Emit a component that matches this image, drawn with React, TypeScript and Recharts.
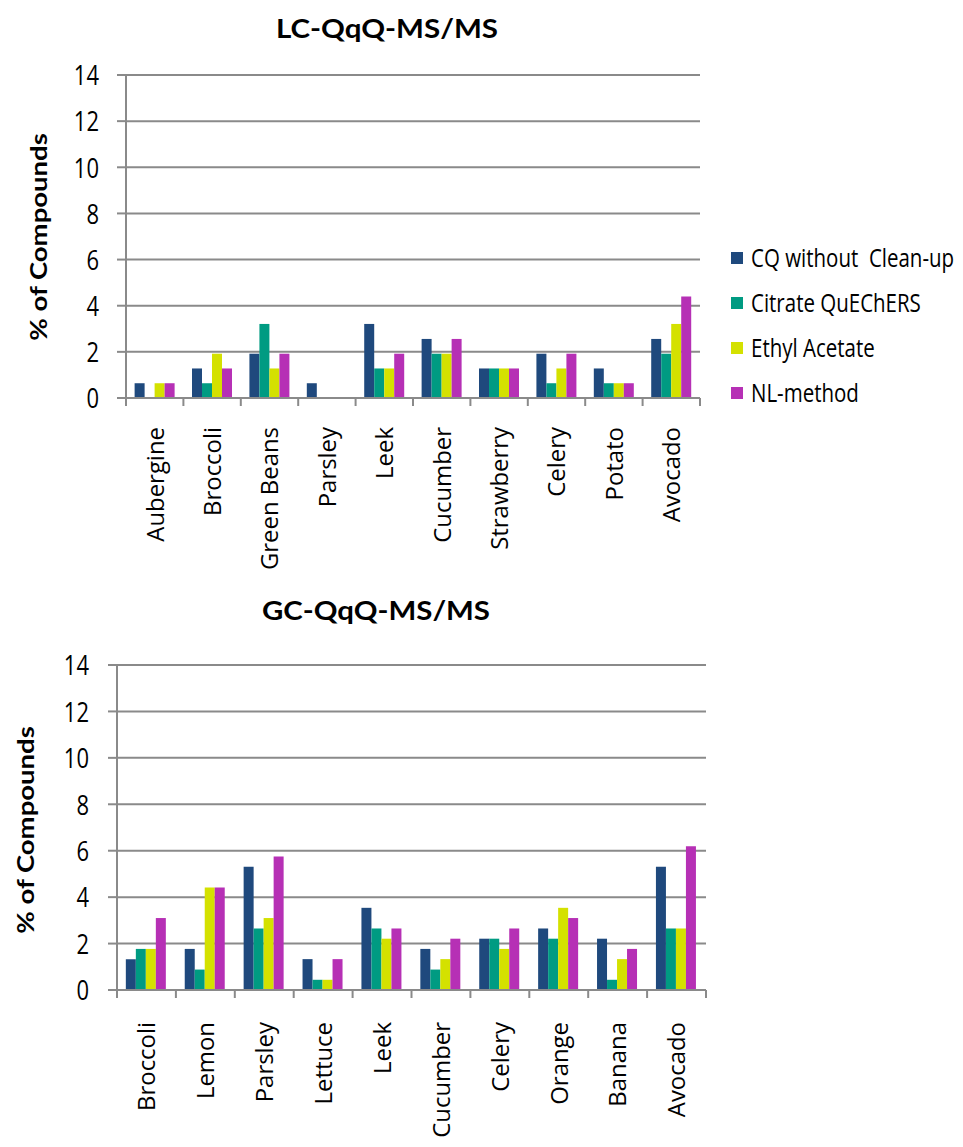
import React from 'react'
import { BarChart, Bar, XAxis, YAxis, CartesianGrid } from 'recharts'

const methods = ['CQ without  Clean-up', 'Citrate QuEChERS', 'Ethyl Acetate', 'NL-method']
const methodKeys = ['cq', 'citrate', 'ethyl', 'nl']
const colors = ['#1f497d', '#009b82', '#d4e100', '#b630b5']
const yTicks = [0, 2, 4, 6, 8, 10, 12, 14]

const lcCategories = ['Aubergine', 'Broccoli', 'Green Beans', 'Parsley', 'Leek', 'Cucumber', 'Strawberry', 'Celery', 'Potato', 'Avocado']
const lcCq = [0.64, 1.28, 1.92, 0.64, 3.21, 2.56, 1.28, 1.92, 1.28, 2.56]
const lcCitrate = [0, 0.64, 3.21, 0, 1.28, 1.92, 1.28, 0.64, 0.64, 1.92]
const lcEthyl = [0.64, 1.92, 1.28, 0, 1.28, 1.92, 1.28, 1.28, 0.64, 3.21]
const lcNl = [0.64, 1.28, 1.92, 0, 1.92, 2.56, 1.28, 1.92, 0.64, 4.4]

const gcCategories = ['Broccoli', 'Lemon', 'Parsley', 'Lettuce', 'Leek', 'Cucumber', 'Celery', 'Orange', 'Banana', 'Avocado']
const gcCq = [1.33, 1.77, 5.31, 1.33, 3.54, 1.77, 2.21, 2.65, 2.21, 5.31]
const gcCitrate = [1.77, 0.88, 2.65, 0.44, 2.65, 0.88, 2.21, 2.21, 0.44, 2.65]
const gcEthyl = [1.77, 4.42, 3.1, 0.44, 2.21, 1.33, 1.77, 3.54, 1.33, 2.65]
const gcNl = [3.1, 4.42, 5.75, 1.33, 2.65, 2.21, 2.65, 3.1, 1.77, 6.19]

const FONT = '"Open Sans", Lato, sans-serif'
const TITLE_FONT = 'Lato, "Open Sans", sans-serif'
const GRAY = '#8a8a8a'
const STRETCH = 1.2 // source picture is a little taller than it should be

function buildRows(categories: string[], series: number[][]) {
  return categories.map((name, i) => {
    const row: Record<string, string | number> = { name }
    methodKeys.forEach((k, j) => { row[k] = series[j][i] })
    return row
  })
}

const lcData = buildRows(lcCategories, [lcCq, lcCitrate, lcEthyl, lcNl])
const gcData = buildRows(gcCategories, [gcCq, gcCitrate, gcEthyl, gcNl])

// excel style tick: marks between categories, rotated label below
function CategoryTick(props: any) {
  const { x, y, payload, index, band, count, gap } = props
  const half = band / 2
  return (
    <g>
      <line x1={x - half} x2={x - half} y1={y} y2={y + 8} stroke={GRAY} strokeWidth={2} />
      {index === count - 1 && (
        <line x1={x + half} x2={x + half} y1={y} y2={y + 8} stroke={GRAY} strokeWidth={2} />
      )}
      <text
        transform={`translate(${x},${y + gap}) rotate(-90) scale(1.04,1)`}
        textAnchor="end"
        dominantBaseline="central"
        fontFamily={FONT}
        fontSize={23}
        fill="#000"
      >
        {payload.value}
      </text>
    </g>
  )
}

function ValueTick(props: any) {
  const { x, y, payload } = props
  return (
    <text
      transform={`translate(${x},${y}) scale(1,${STRETCH})`}
      textAnchor="end"
      dominantBaseline="central"
      fontFamily={FONT}
      fontSize={22}
      fill="#000"
    >
      {payload.value}
    </text>
  )
}

interface PanelProps {
  data: Record<string, string | number>[]
  height: number
  plotLeft: number
  plotRight: number
  plotBottom: number
  labelGap: number
  tickMargin: number
}

function Panel({ data, height, plotLeft, plotRight, plotBottom, labelGap, tickMargin }: PanelProps) {
  const width = 963
  const band = (plotRight - plotLeft) / data.length
  return (
    <BarChart
      width={width}
      height={height}
      data={data}
      margin={{ top: 75, right: width - plotRight, bottom: 0, left: 0 }}
      barCategoryGap="15%"
      barGap={0}
      style={{ overflow: 'visible' }}
    >
      <CartesianGrid vertical={false} stroke={GRAY} strokeWidth={2} />
      <XAxis
        dataKey="name"
        interval={0}
        height={height - plotBottom}
        tickSize={0}
        tickMargin={0}
        tickLine={false}
        axisLine={{ stroke: GRAY, strokeWidth: 2 }}
        tick={<CategoryTick band={band} count={data.length} gap={labelGap} />}
      />
      <YAxis
        width={plotLeft}
        domain={[0, 14]}
        ticks={yTicks}
        interval={0}
        tickSize={9}
        tickMargin={tickMargin}
        axisLine={{ stroke: GRAY, strokeWidth: 2 }}
        tickLine={{ stroke: GRAY, strokeWidth: 2 }}
        tick={<ValueTick />}
      />
      {methodKeys.map((k, i) => (
        <Bar key={k} dataKey={k} name={methods[i]} fill={colors[i]} isAnimationActive={false} />
      ))}
    </BarChart>
  )
}

export default function App() {
  return (
    <div style={{ position: 'absolute', left: 0, top: 0, width: 963, height: 1147, background: '#fff', overflow: 'hidden' }}>
      <div style={{ position: 'absolute', left: 0, top: 0 }}>
        <Panel data={lcData} height={590} plotLeft={126} plotRight={700} plotBottom={398} labelGap={29} tickMargin={18} />
      </div>
      <div style={{ position: 'absolute', left: 0, top: 590 }}>
        <Panel data={gcData} height={557} plotLeft={117} plotRight={706} plotBottom={400} labelGap={32} tickMargin={19} />
      </div>
      <svg width={963} height={1147} style={{ position: 'absolute', left: 0, top: 0, pointerEvents: 'none' }}>
        <text x={387} y={38} textAnchor="middle" fontFamily={TITLE_FONT} fontWeight="bold" fontSize={27} textLength={222} lengthAdjust="spacingAndGlyphs">
          LC-QqQ-MS/MS
        </text>
        <text x={376} y={620} textAnchor="middle" fontFamily={TITLE_FONT} fontWeight="bold" fontSize={27} textLength={228} lengthAdjust="spacingAndGlyphs">
          GC-QqQ-MS/MS
        </text>
        <text transform="translate(38,237) rotate(-90) scale(1.25,1)" textAnchor="middle" dominantBaseline="central" fontFamily={TITLE_FONT} fontWeight="bold" fontSize={22}>
          % of Compounds
        </text>
        <text transform="translate(25,830) rotate(-90) scale(1.25,1)" textAnchor="middle" dominantBaseline="central" fontFamily={TITLE_FONT} fontWeight="bold" fontSize={22}>
          % of Compounds
        </text>
        {methods.map((m, i) => (
          <g key={m}>
            <rect x={731} y={252 + i * 45} width={12} height={12} fill={colors[i]} />
            <text
              transform={`translate(751,${258 + i * 45}) scale(1,${STRETCH})`}
              dominantBaseline="central"
              fontFamily={FONT}
              fontSize={20.5}
              fill="#000"
              style={{ whiteSpace: 'pre' }}
            >
              {m}
            </text>
          </g>
        ))}
      </svg>
    </div>
  )
}
